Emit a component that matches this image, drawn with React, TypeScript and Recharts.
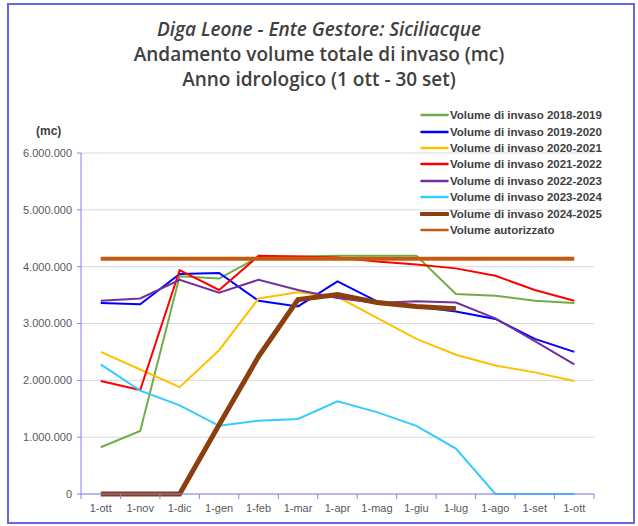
import React from "react";
import { LineChart, Line, XAxis, YAxis, CartesianGrid } from "recharts";

const months = ["1-ott", "1-nov", "1-dic", "1-gen", "1-feb", "1-mar", "1-apr", "1-mag", "1-giu", "1-lug", "1-ago", "1-set", "1-ott"];

const v2018 = [823000, 1110000, 3830000, 3790000, 4170000, 4180000, 4190000, 4190000, 4190000, 3520000, 3490000, 3400000, 3360000];
const v2019 = [3360000, 3340000, 3870000, 3890000, 3400000, 3300000, 3740000, 3390000, 3300000, 3210000, 3080000, 2730000, 2500000];
const v2020 = [2500000, 2190000, 1880000, 2530000, 3440000, 3550000, 3470000, 3100000, 2730000, 2450000, 2260000, 2140000, 1990000];
const v2021 = [1990000, 1830000, 3940000, 3590000, 4190000, 4180000, 4160000, 4090000, 4040000, 3970000, 3840000, 3590000, 3400000];
const v2022 = [3400000, 3440000, 3770000, 3540000, 3770000, 3590000, 3450000, 3360000, 3390000, 3370000, 3090000, 2690000, 2280000];
const v2023 = [2280000, 1820000, 1560000, 1200000, 1290000, 1320000, 1630000, 1440000, 1200000, 800000, 0, 0, 0];
const v2024: (number | null)[] = [0, 0, 0, 1220000, 2420000, 3420000, 3510000, 3370000, 3300000, 3260000, null, null, null];
const autorizzato = [4140000, 4140000, 4140000, 4140000, 4140000, 4140000, 4140000, 4140000, 4140000, 4140000, 4140000, 4140000, 4140000];

const yTicks = [0, 1000000, 2000000, 3000000, 4000000, 5000000, 6000000];

const seriesNames = [
  "Volume di invaso 2018-2019",
  "Volume di invaso 2019-2020",
  "Volume di invaso 2020-2021",
  "Volume di invaso 2021-2022",
  "Volume di invaso 2022-2023",
  "Volume di invaso 2023-2024",
  "Volume di invaso 2024-2025",
  "Volume autorizzato",
];
const seriesValues = [v2018, v2019, v2020, v2021, v2022, v2023, v2024, autorizzato];
const seriesColors = ["#70AD47", "#0000FF", "#FFC000", "#FF0000", "#7030A0", "#33CCFF", "#8B3F0E", "#C55A11"];
const seriesWidths = [2, 2, 2, 2, 2, 2, 5, 4];
const seriesKeys = ["s0", "s1", "s2", "s3", "s4", "s5", "s6", "s7"];

const data = months.map((m, i) => {
  const row: any = { month: m, idx: i };
  seriesKeys.forEach((k, j) => {
    row[k] = seriesValues[j][i];
  });
  return row;
});

const W = 638;
const H = 526;
const PLOT_LEFT = 81;
const PLOT_RIGHT = 594;
const BAND = (PLOT_RIGHT - PLOT_LEFT) / months.length;
const AXIS_COLOR = "#8080F8";
const FONT = "'Liberation Sans', Arial, sans-serif";
const TITLE_FONT = "'Open Sans', 'Liberation Sans', sans-serif";

const fmt = (v: number) => String(v).replace(/\B(?=(\d{3})+(?!\d))/g, ".");

const XTick = (props: any) => {
  const { x, payload, index } = props;
  const left = x - BAND / 2;
  const label = months[payload.value] ?? payload.value;
  return (
    <g>
      <line x1={left} y1={494} x2={left} y2={499} stroke={AXIS_COLOR} strokeWidth={1} />
      {index === months.length - 1 && (
        <line x1={x + BAND / 2} y1={494} x2={x + BAND / 2} y2={499} stroke={AXIS_COLOR} strokeWidth={1} />
      )}
      <text x={x} y={512} textAnchor="middle" fill="#595959" fontSize={11} fontFamily={FONT}>
        {label}
      </text>
    </g>
  );
};

export default function App() {
  return (
    <div style={{ position: "absolute", left: 0, top: 0, width: W, height: H, background: "#fff" }}>
      <div
        style={{
          position: "absolute",
          left: 7,
          top: 3,
          width: 628,
          height: 521,
          border: "2px solid #6666E6",
          boxSizing: "border-box",
        }}
      />
      <div
        style={{
          position: "absolute",
          left: 0,
          top: 17,
          width: W,
          textAlign: "center",
          fontFamily: TITLE_FONT,
          fontWeight: 600,
          color: "#404040",
          fontSize: 19,
          lineHeight: "25px",
        }}
      >
        <div style={{ fontStyle: "italic" }}>Diga Leone - Ente Gestore: Siciliacque</div>
        <div>Andamento volume totale di invaso (mc)</div>
        <div>Anno idrologico (1 ott - 30 set)</div>
      </div>
      <div
        style={{
          position: "absolute",
          left: 36,
          top: 124,
          fontFamily: FONT,
          fontWeight: "bold",
          fontSize: 12,
          color: "#404040",
        }}
      >
        (mc)
      </div>
      <div style={{ position: "absolute", left: 0, top: 0 }}>
        <LineChart width={W} height={H} data={data} margin={{ top: 153, right: W - PLOT_RIGHT, bottom: 0, left: 0 }}>
          <CartesianGrid vertical={false} stroke="#D9D9D9" />
          <XAxis
            dataKey="idx"
            type="category"
            scale="band"
            height={32}
            tick={<XTick />}
            tickLine={false}
            stroke={AXIS_COLOR}
            interval={0}
          />
          <YAxis
            width={PLOT_LEFT}
            domain={[0, 6000000]}
            ticks={yTicks}
            tickFormatter={fmt}
            stroke={AXIS_COLOR}
            tickSize={4}
            tickMargin={5}
            tick={{ fill: "#595959", fontSize: 11, fontFamily: FONT }}
            interval={0}
          />
          {seriesKeys.map((k, i) => (
            <Line
              key={k}
              dataKey={k}
              name={seriesNames[i]}
              stroke={seriesColors[i]}
              strokeWidth={seriesWidths[i]}
              dot={false}
              activeDot={false}
              isAnimationActive={false}
              connectNulls={false}
            />
          ))}
        </LineChart>
      </div>
      <div style={{ position: "absolute", left: 420, top: 107, fontFamily: FONT }}>
        {seriesNames.map((n, i) => (
          <div key={n} style={{ display: "flex", alignItems: "center", height: 16.4 }}>
            <svg width={29} height={8} style={{ display: "block" }}>
              <line x1={1.5} y1={4} x2={27.5} y2={4} stroke={seriesColors[i]} strokeWidth={i === 6 ? 4 : 2.5} strokeLinecap="round" />
            </svg>
            <span style={{ fontSize: 11.5, fontWeight: "bold", color: "#404040", whiteSpace: "nowrap", marginLeft: 1 }}>{n}</span>
          </div>
        ))}
      </div>
    </div>
  );
}
